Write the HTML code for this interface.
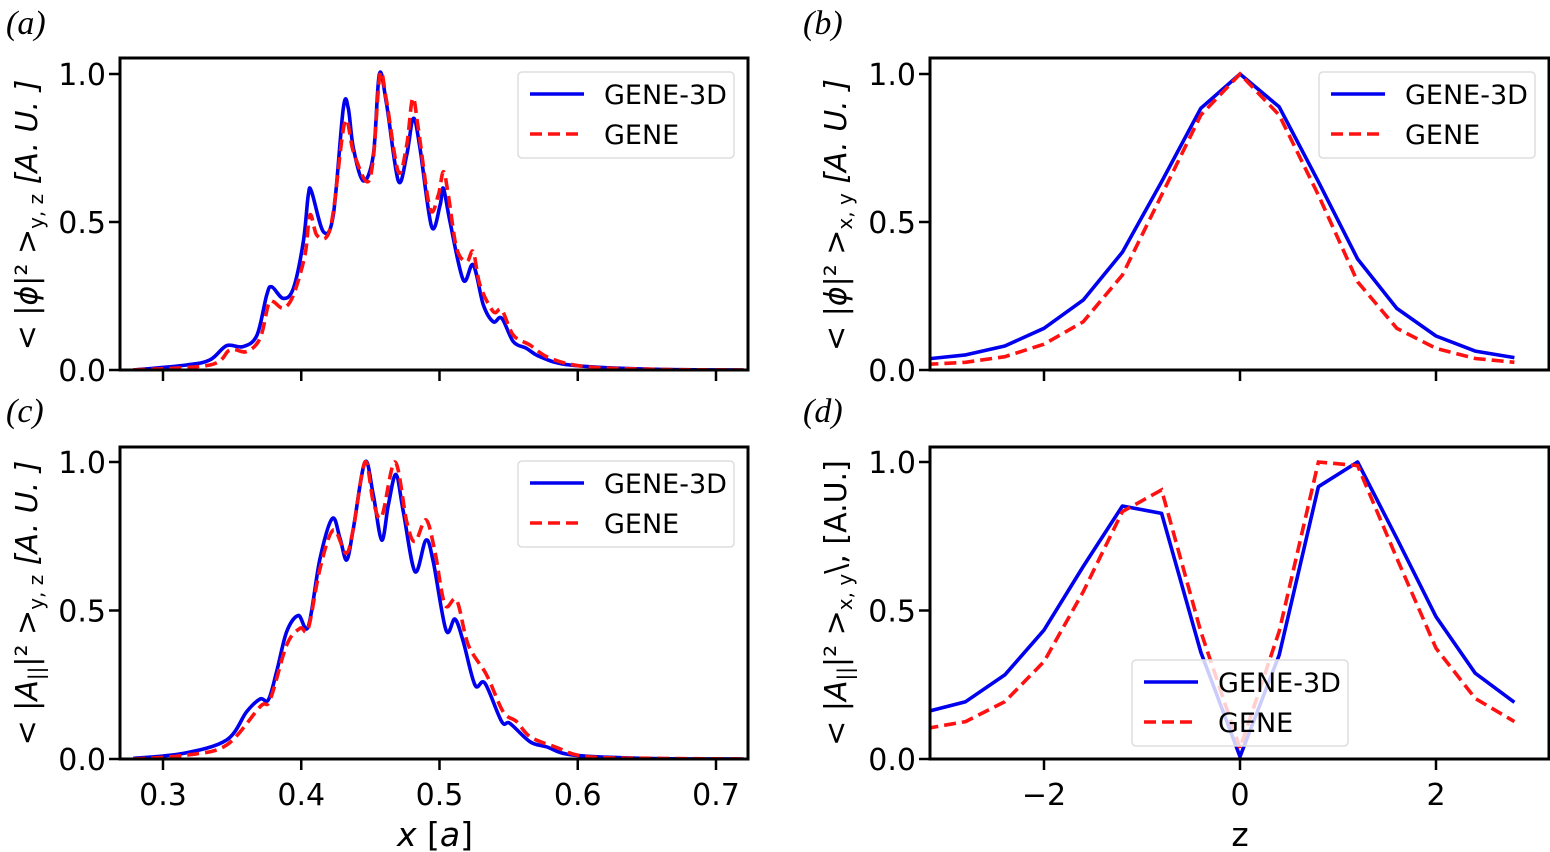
<!DOCTYPE html>
<html><head><meta charset="utf-8"><style>
html,body{margin:0;padding:0;background:#fff;}
svg{display:block;font-family:"DejaVu Sans","Liberation Sans",sans-serif;}
</style></head><body>
<svg id="fig" width="1550" height="852" viewBox="0 0 1550 852" xmlns="http://www.w3.org/2000/svg"></svg>
<script>
const aBlueX=[0.2785,0.3171,0.334,0.346,0.358,0.368,0.375,0.3786,0.387,0.3943,0.4015,0.4051,0.4075,0.416,0.4232,0.4304,0.434,0.4377,0.4449,0.4521,0.4565,0.4618,0.4702,0.4763,0.4811,0.4859,0.4943,0.5004,0.5028,0.5076,0.5172,0.5244,0.5317,0.5389,0.545,0.5534,0.563,0.5727,0.5944,0.65,0.72];
const aBlueY=[0,0.017,0.034,0.082,0.079,0.118,0.253,0.281,0.242,0.276,0.433,0.591,0.602,0.467,0.524,0.884,0.884,0.749,0.639,0.726,1.0,0.896,0.639,0.726,0.85,0.749,0.484,0.557,0.614,0.501,0.304,0.355,0.22,0.163,0.175,0.096,0.073,0.045,0.017,0.003,0];
const aRedX=[0.2785,0.334,0.3485,0.3605,0.3702,0.3762,0.3798,0.387,0.3943,0.4027,0.4063,0.4112,0.4184,0.4232,0.4316,0.4377,0.4473,0.4521,0.457,0.4618,0.4702,0.4763,0.4806,0.4847,0.4931,0.4991,0.5028,0.5064,0.5124,0.5197,0.5244,0.5293,0.5389,0.545,0.5534,0.5655,0.58,0.6065,0.66,0.72];
const aRedY=[0,0.017,0.068,0.062,0.107,0.22,0.231,0.209,0.253,0.389,0.524,0.456,0.45,0.535,0.839,0.737,0.636,0.715,1.0,0.906,0.67,0.76,0.918,0.816,0.546,0.591,0.67,0.591,0.411,0.366,0.4,0.287,0.197,0.203,0.118,0.084,0.04,0.011,0.002,0];
const cBlueX=[0.2785,0.3147,0.346,0.3605,0.3702,0.3762,0.3822,0.3895,0.3979,0.4051,0.4136,0.4225,0.428,0.4329,0.4377,0.4461,0.4521,0.4582,0.463,0.4685,0.4738,0.4823,0.4902,0.4955,0.5047,0.5112,0.5172,0.5257,0.5329,0.545,0.551,0.5655,0.5775,0.5968,0.65,0.72];
const cBlueY=[0.002,0.019,0.064,0.159,0.202,0.199,0.294,0.429,0.483,0.446,0.676,0.81,0.743,0.67,0.777,1.0,0.889,0.737,0.855,0.958,0.833,0.631,0.737,0.664,0.434,0.471,0.395,0.249,0.255,0.126,0.12,0.058,0.041,0.013,0.002,0];
const cRedX=[0.2785,0.3171,0.346,0.3702,0.3774,0.3895,0.3991,0.4051,0.4136,0.4232,0.4324,0.4377,0.4461,0.4521,0.4582,0.4678,0.4763,0.4823,0.4902,0.4967,0.504,0.5124,0.5208,0.5341,0.5461,0.5558,0.5655,0.5835,0.6065,0.66,0.72];
const cRedY=[0,0.013,0.047,0.176,0.199,0.384,0.44,0.44,0.642,0.771,0.693,0.777,1.0,0.866,0.816,1.0,0.799,0.732,0.805,0.698,0.519,0.535,0.384,0.283,0.159,0.126,0.075,0.041,0.008,0.002,0];
const zGrid=[-3.2,-2.8,-2.4,-2.0,-1.6,-1.2,-0.8,-0.4,0,0.4,0.8,1.2,1.6,2.0,2.4,2.8];
const bBlue=[0.037,0.051,0.081,0.141,0.236,0.398,0.636,0.884,1.0,0.889,0.636,0.375,0.208,0.115,0.064,0.042];
const bRed=[0.019,0.026,0.045,0.087,0.163,0.321,0.591,0.861,1.0,0.861,0.591,0.298,0.141,0.073,0.039,0.026];
const dBlue=[0.159,0.193,0.283,0.434,0.648,0.852,0.827,0.36,0.008,0.35,0.917,1.0,0.743,0.479,0.289,0.191];
const dRed=[0.103,0.126,0.193,0.328,0.563,0.833,0.906,0.429,0.036,0.43,1.0,0.988,0.676,0.373,0.204,0.126];
const xTicks=[0.3,0.4,0.5,0.6,0.7];
const zTicks=[-2,0,2];
const yTicks=[0,0.5,1.0];

const NS="http://www.w3.org/2000/svg";
const svg=document.getElementById('fig');
function mk(tag,attrs,parent){const e=document.createElementNS(NS,tag);for(const k in attrs)e.setAttribute(k,attrs[k]);(parent||svg).appendChild(e);return e;}

const panels=[
 {id:'a',L:120,T:58,R:748,B:370,y0:370,y1:74,type:'x',bx:aBlueX,by:aBlueY,rx:aRedX,ry:aRedY,leg:'tr'},
 {id:'b',L:930,T:58,R:1549,B:370,y0:370,y1:74,type:'z',by:bBlue,ry:bRed,leg:'tr'},
 {id:'c',L:120,T:447,R:748,B:759,y0:759,y1:462,type:'x',bx:cBlueX,by:cBlueY,rx:cRedX,ry:cRedY,leg:'tr'},
 {id:'d',L:930,T:447,R:1549,B:759,y0:759,y1:462,type:'z',by:dBlue,ry:dRed,leg:'bc'}
];
function smoothPath(pts){
  let d='M'+pts[0][0].toFixed(1)+','+pts[0][1].toFixed(1);
  for(let i=0;i<pts.length-1;i++){
    const p0=pts[Math.max(0,i-1)],p1=pts[i],p2=pts[i+1],p3=pts[Math.min(pts.length-1,i+2)];
    const c1=[p1[0]+(p2[0]-p0[0])/6,p1[1]+(p2[1]-p0[1])/6];
    const c2=[p2[0]-(p3[0]-p1[0])/6,p2[1]-(p3[1]-p1[1])/6];
    d+='C'+c1[0].toFixed(1)+','+c1[1].toFixed(1)+' '+c2[0].toFixed(1)+','+c2[1].toFixed(1)+' '+p2[0].toFixed(1)+','+p2[1].toFixed(1);
  }
  return d;
}
panels.forEach(p=>{
  const g=mk('g',{});
  
  
  const sx=p.type==='x'?(v=>163+(v-0.3)*1382.5):(v=>1240+v*98);
  const sy=v=>p.y0+(p.y1-p.y0)*v;
  const cid='clip'+p.id;
  const cp=mk('clipPath',{id:cid},g);mk('rect',{x:p.L,y:p.T,width:p.R-p.L,height:p.B-p.T},cp);
  const xs=p.type==='x'?null:zGrid;
  const ptsB=(p.type==='x'?p.bx:xs).map((v,i)=>[sx(v),sy(p.by[i])]);
  const ptsR=(p.type==='x'?p.rx:xs).map((v,i)=>[sx(v),sy(p.ry[i])]);
  const dB=p.type==='x'?smoothPath(ptsB):'M'+ptsB.map(q=>q[0].toFixed(1)+','+q[1].toFixed(1)).join('L');
  const dR=p.type==='x'?smoothPath(ptsR):'M'+ptsR.map(q=>q[0].toFixed(1)+','+q[1].toFixed(1)).join('L');
  const lb=mk('path',{d:dB,fill:'none',stroke:'#0000ee','stroke-width':3.6,'clip-path':'url(#'+cid+')','stroke-linejoin':'round'},g);
  
  
  const lr=mk('path',{d:dR,fill:'none',stroke:'#ff1111','stroke-width':3.6,'stroke-dasharray':'12,6','clip-path':'url(#'+cid+')'},g);
  
  
  const fr=mk('rect',{x:p.L,y:p.T,width:p.R-p.L,height:p.B-p.T,fill:'none',stroke:'#000','stroke-width':3},g);
  
  
  yTicks.forEach(t=>{
    const y=sy(t);
    mk('line',{x1:p.L-11,x2:p.L,y1:y,y2:y,stroke:'#000','stroke-width':2.5},g);
    const tx=mk('text',{x:p.L-14,y:y+11,'text-anchor':'end','font-size':30,fill:'#000'},g);
    tx.textContent=t.toFixed(1);
    
    
  });
  const ticks=p.type==='x'?xTicks:zTicks;
  ticks.forEach(t=>{
    const x=sx(t);
    mk('line',{x1:x,x2:x,y1:p.B,y2:p.B+11,stroke:'#000','stroke-width':2.5},g);
    if(p.id==='c'||p.id==='d'){
      const tx=mk('text',{x:x,y:p.B+46,'text-anchor':'middle','font-size':30,fill:'#000'},g);
      tx.textContent=p.type==='x'?t.toFixed(1):(t<0?'\u2212'+Math.abs(t):String(t));
      
      
    }
  });
  let lx,ly;
  if(p.leg==='tr'){lx=p.R-230;ly=p.T+14;}else{lx=1132;ly=660;}
  const lg=mk('g',{},g);
  
  
  mk('rect',{x:lx,y:ly,width:216,height:86,rx:4,fill:'#fff','fill-opacity':0.8,stroke:'#ddd','stroke-width':1.5},lg);
  mk('line',{x1:lx+12,x2:lx+66,y1:ly+22,y2:ly+22,stroke:'#0000ee','stroke-width':3.6},lg);
  mk('line',{x1:lx+12,x2:lx+66,y1:ly+62,y2:ly+62,stroke:'#ff1111','stroke-width':3.6,'stroke-dasharray':'12,6'},lg);
  const t1=mk('text',{x:lx+86,y:ly+32,'font-size':27,fill:'#000'},lg);t1.textContent='GENE-3D';
  
  
  const t2=mk('text',{x:lx+86,y:ly+72,'font-size':27,fill:'#000'},lg);t2.textContent='GENE';
  
  
});
</script>
<div style="position:absolute;left:0;top:0;width:1550px;height:852px;pointer-events:none;">
<svg width="1550" height="852" style="position:absolute;left:0;top:0" xmlns="http://www.w3.org/2000/svg">
 <g font-family="Liberation Serif, serif" font-style="italic" font-size="34">
  <text x="6" y="34">(a)</text>
  <text x="803" y="34">(b)</text>
  <text x="6" y="422">(c)</text>
  <text x="803" y="422">(d)</text>
 </g>
 <g font-family="DejaVu Sans, sans-serif" font-size="30">
  <text transform="translate(37,215) rotate(-90)" text-anchor="middle">&lt; |<tspan font-style="italic">ϕ</tspan>|² &gt;<tspan font-size="20" dy="6">y, z</tspan><tspan dy="-6" font-style="italic"> [A. U. ]</tspan></text>
  <text transform="translate(846,215) rotate(-90)" text-anchor="middle">&lt; |<tspan font-style="italic">ϕ</tspan>|² &gt;<tspan font-size="20" dy="6">x, y</tspan><tspan dy="-6" font-style="italic"> [A. U. ]</tspan></text>
  <text transform="translate(37,603) rotate(-90)" text-anchor="middle">&lt; |<tspan font-style="italic">A</tspan><tspan font-size="20" dy="6">||</tspan><tspan dy="-6">|² &gt;</tspan><tspan font-size="20" dy="6">y, z</tspan><tspan dy="-6" font-style="italic"> [A. U. ]</tspan></text>
  <text transform="translate(846,603) rotate(-90)" text-anchor="middle">&lt; |<tspan font-style="italic">A</tspan><tspan font-size="20" dy="6">||</tspan><tspan dy="-6">|² &gt;</tspan><tspan font-size="20" dy="6">x, y</tspan><tspan dy="-6">\, [A.U.]</tspan></text>
  <text x="435" y="846" text-anchor="middle" font-size="33"><tspan font-style="italic">x</tspan> [<tspan font-style="italic">a</tspan>]</text>
  <text x="1240" y="846" text-anchor="middle" font-size="33">z</text>
 </g>
</svg>
</div>
</body></html>
